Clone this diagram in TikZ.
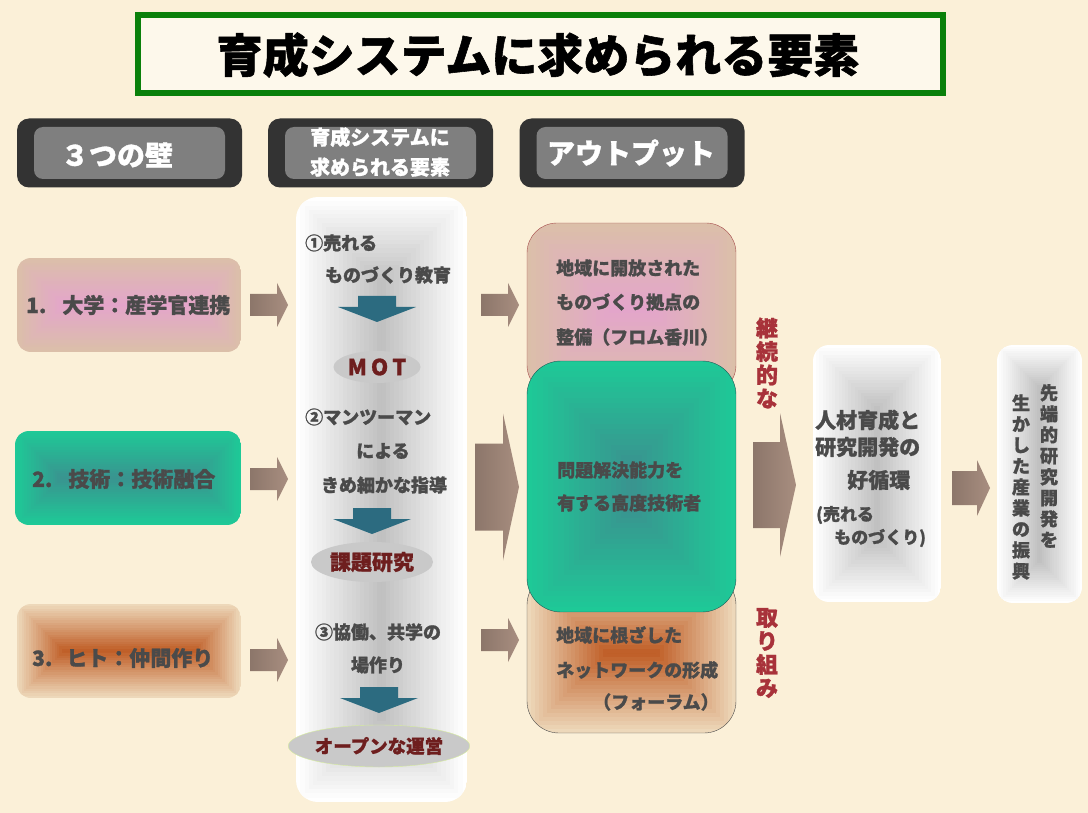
\documentclass[tikz,border=0pt]{standalone}
\usepackage{fontspec}
\setmainfont{Noto Sans CJK JP}[BoldFeatures={FakeBold=1.2}]
\usetikzlibrary{shapes.geometric}

\definecolor{bgcream}{HTML}{FBF0D8}
\definecolor{titlegreen}{HTML}{0A800A}
\definecolor{hdark}{HTML}{333333}
\definecolor{hgray}{HTML}{7F7F7F}
\definecolor{txtgray}{HTML}{4A4A4A}
\definecolor{redtxt}{HTML}{A8323A}
\definecolor{ovalgray}{HTML}{C9C9C9}
\definecolor{ovaltext}{HTML}{6E1E1E}
\definecolor{arrowA}{HTML}{8C766A}
\definecolor{arrowB}{HTML}{A88E80}
\definecolor{tealarrow}{HTML}{2C6B80}
\definecolor{pinkout}{HTML}{DBBFA9}
\definecolor{pinkin}{HTML}{E4A4CC}
\definecolor{tealout}{HTML}{1EC997}
\definecolor{tealin}{HTML}{3A928F}
\definecolor{brownout}{HTML}{EDD8BA}
\definecolor{brownin}{HTML}{BE5A22}
\definecolor{boxgray}{HTML}{BEBEBE}

% block arrow to the right: tip, length, shaft half, head length, head half
\newcommand{\sidearrow}[5]{%
  \shade[arr] (#1) ++(-#2,-#3) -- ++({#2-#4},0) -- ++(0,{#3-#5}) -- ++(#4,#5)
    -- ++(-#4,#5) -- ++(0,{#3-#5}) -- ++({#4-#2},0) -- cycle;}
% teal arrow pointing down, given its tip
\newcommand{\tealdown}[1]{%
  \fill[tealarrow] (#1) ++(-19,-26) -- ++(38,0) -- ++(0,11) -- ++(20,0)
    -- ++(-39,15) -- ++(-39,-15) -- ++(20,0) -- cycle;}
% stepped box: x1, y1, x2, y2, outer colour, inner colour, corner radius
\newcommand{\pyramid}[7]{%
  \begin{scope}
    \clip[rounded corners=#7] (#1,#2) rectangle (#3,#4);
    \pgfmathsetmacro\halfside{min(#3-#1,#4-#2)/2}
    \foreach \i in {0,...,20}{
      \pgfmathsetmacro\inset{\i*\halfside/20}
      \pgfmathtruncatemacro\mix{\i*5}
      \fill[#6!\mix!#5] ({#1+\inset},{#2+\inset}) rectangle ({#3-\inset},{#4-\inset});
    }
  \end{scope}}

\begin{document}
\begin{tikzpicture}[x=1pt, y=-1pt,
    every node/.style={text=txtgray, inner sep=0pt},
    arr/.style={left color=arrowA, right color=arrowB},
    hbox/.style={fill=hdark, rounded corners=12pt, minimum width=225pt, minimum height=69pt},
    hinner/.style={fill=hgray, rounded corners=9pt, minimum width=191pt, minimum height=52pt},
    htext/.style={text=white, font=\bfseries\fontsize{28}{30}\selectfont},
    wall/.style={anchor=west, font=\bfseries\fontsize{21}{23}\selectfont},
    item/.style={font=\bfseries\fontsize{18}{20}\selectfont},
    oval/.style={ellipse, fill=ovalgray, text=ovaltext, font=\bfseries\fontsize{21}{23}\selectfont},
    outtext/.style={anchor=west, font=\bfseries\fontsize{18}{20}\selectfont},
    redv/.style={text=redtxt, align=center, font=\bfseries\fontsize{22}{23.5}\selectfont},
    bigtext/.style={anchor=west, font=\bfseries\fontsize{21}{23}\selectfont},
  ]

  \useasboundingbox (0,0) rectangle (1088,813);
  \fill[bgcream] (0,0) rectangle (1088,813);

  % title
  \draw[line width=6pt, titlegreen, fill=bgcream!50!white] (138,15) rectangle (943,93);
  \node[text=black, font=\bfseries\fontsize{46}{50}\selectfont] (title) at (538,55) {育成システムに求められる要素};

  % column heads
  \node[hbox] (head1) at (129.5,153) {};
  \node[hinner] (head1in) at (head1) {};
  \node[htext] (head1txt) at (117,155) {３つの壁};
  \node[hbox] (head2) at (380.5,153) {};
  \node[hinner] (head2in) at (head2) {};
  \node[htext, align=center, font=\bfseries\fontsize{20}{30}\selectfont] (head2txt) at (380,152) {育成システムに\\求められる要素};
  \node[hbox] (head3) at (632,153) {};
  \node[hinner] (head3in) at (head3) {};
  \node[htext] (head3txt) at (631,153) {アウトプット};

  % the three walls
  \pyramid{17}{258}{241}{352}{pinkout}{pinkin}{14}
  \node[wall] (wall1) at (26,305) {1.\hspace{16pt}大学：産学官連携};
  \pyramid{15}{431}{241}{525}{tealout}{tealin}{14}
  \node[wall] (wall2) at (32,479) {2.\hspace{16pt}技術：技術融合};
  \pyramid{17}{604}{241}{698}{brownout}{brownin}{14}
  \node[wall] (wall3) at (32,658) {3.\hspace{14pt}ヒト：仲間作り};

  \sidearrow{288,305}{38}{11}{11}{22}
  \sidearrow{288,479}{38}{11}{11}{22}
  \sidearrow{288,660}{38}{11}{11}{22}

  % elements of the system
  \pyramid{296}{197}{467}{802}{white}{boxgray}{22}
  \node[item, anchor=west] (elem1) at (305,243) {①売れる};
  \node[item] (elem1b) at (388,275) {ものづくり教育};
  \tealdown{377,322}
  \node[oval, minimum width=87pt, minimum height=32pt, font=\bfseries\fontsize{22}{24}\selectfont] (mot) at (377,367) {M\hspace{4pt}O\hspace{4pt}T};
  \node[item, anchor=west] (elem2) at (305,417) {②マンツーマン};
  \node[item] (elem2b) at (383,451) {による};
  \node[item] (elem2c) at (384,485) {きめ細かな指導};
  \tealdown{372,534}
  \node[oval, minimum width=122pt, minimum height=40pt] (kadai) at (372,562) {課題研究};
  \node[item] (elem3) at (378,632) {③協働、共学の};
  \node[item] (elem3b) at (378,665) {場作り};
  \tealdown{379,713}
  \node[oval, draw=yellow!60!green!40, minimum width=137pt, minimum height=42pt, font=\bfseries\fontsize{18.5}{20}\selectfont] (open) at (379,746) {オープンな運営};

  \sidearrow{519,305}{38}{11}{11}{22}
  \sidearrow{519,640}{38}{11}{11}{22}
  \sidearrow{519,487}{44}{43.5}{16}{73.5}

  % output
  \pyramid{527}{223}{736}{395}{pinkout}{pinkin}{30}
  \draw[red!50!black!70, rounded corners=30] (527,223) rectangle (736,395);
  \node[outtext] (out1a) at (556,268) {地域に開放された};
  \node[outtext] (out1b) at (556,302) {ものづくり拠点の};
  \node[outtext] (out1c) at (556,337) {整備（フロム香川）};
  \pyramid{527}{573}{736}{733}{brownout}{brownin}{32}
  \draw[black!70, rounded corners=32] (527,573) rectangle (736,733);
  \node[outtext] (out3a) at (556,635) {地域に根ざした};
  \node[outtext] (out3b) at (556,670) {ネットワークの形成};
  \node[outtext] (out3c) at (593,702) {（フォーラム）};
  \pyramid{527}{361}{736}{612}{tealout}{tealin}{34}
  \draw[tealin!60!black, rounded corners=34] (527,361) rectangle (736,612);
  \node[outtext] (out2a) at (557,470) {問題解決能力を};
  \node[outtext] (out2b) at (557,503) {有する高度技術者};

  \node[redv] (keizoku) at (767,363) {継\\続\\的\\な};
  \node[redv] (torikumi) at (767,653) {取\\り\\組\\み};
  \sidearrow{796,485}{43}{43}{16}{72}

  % result
  \pyramid{813}{345}{941}{602}{white}{boxgray}{16}
  \node[bigtext] (cyc1) at (815,420) {人材育成と};
  \node[bigtext] (cyc2) at (815,447) {研究開発の};
  \node[bigtext] (cyc3) at (847,480) {好循環};
  \node[bigtext, font=\bfseries\fontsize{17}{19}\selectfont] (cyc4) at (816,515) {(売れる};
  \node[bigtext, font=\bfseries\fontsize{17}{19}\selectfont] (cyc5) at (834,538) {ものづくり)};

  \sidearrow{990,488}{38}{17}{13}{28}

  \pyramid{997}{345}{1082}{603}{white}{boxgray}{16}
  \node[align=center, font=\bfseries\fontsize{18}{21}\selectfont] (goal1) at (1049,466) {先\\端\\的\\研\\究\\開\\発\\を};
  \node[align=center, font=\bfseries\fontsize{18}{21}\selectfont] (goal2) at (1021,487) {生\\か\\し\\た\\産\\業\\の\\振\\興};

\end{tikzpicture}
\end{document}
